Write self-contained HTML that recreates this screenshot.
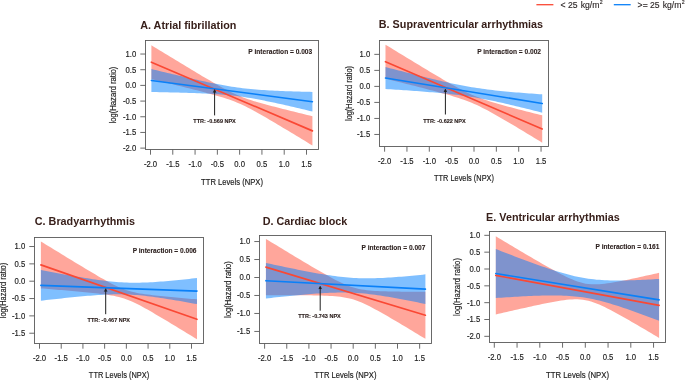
<!DOCTYPE html>
<html><head><meta charset="utf-8"><style>
html,body{margin:0;padding:0;background:#fff;}
svg{display:block;will-change:transform;}
text{font-family:"Liberation Sans",sans-serif;}
.tk{font-size:7.7px;fill:#222222;stroke:#222222;stroke-width:0.15px;}
.xl{font-size:7.75px;fill:#222222;stroke:#222222;stroke-width:0.15px;}
.ti{font-size:10.8px;font-weight:bold;fill:#38201b;}
.pi{font-size:6.6px;font-weight:bold;fill:#2e2220;stroke:#2e2220;stroke-width:0.1px;}
.tt{font-size:5.5px;font-weight:bold;fill:#2e2220;stroke:#2e2220;stroke-width:0.12px;}
.lg{font-size:8.65px;fill:#2a2424;stroke:#2a2424;stroke-width:0.12px;}
.sup{font-size:5.2px;}
</style></head><body>
<svg width="685" height="381" viewBox="0 0 685 381">
<rect width="685" height="381" fill="#fff"/>
<path d="M151.39,45.25 L154.08,46.90 L156.76,48.54 L159.44,50.18 L162.13,51.82 L164.81,53.45 L167.49,55.09 L170.18,56.73 L172.86,58.36 L175.55,59.99 L178.23,61.62 L180.91,63.25 L183.60,64.87 L186.28,66.50 L188.97,68.11 L191.65,69.73 L194.33,71.34 L197.02,72.95 L199.70,74.55 L202.38,76.14 L205.07,77.73 L207.75,79.30 L210.44,80.87 L213.12,82.42 L215.80,83.95 L218.49,85.46 L221.17,86.95 L223.86,88.41 L226.54,89.83 L229.22,91.20 L231.91,92.52 L234.59,93.79 L237.27,94.99 L239.96,96.12 L242.64,97.18 L245.33,98.19 L248.01,99.13 L250.69,100.03 L253.38,100.88 L256.06,101.70 L258.75,102.49 L261.43,103.26 L264.11,104.01 L266.80,104.74 L269.48,105.46 L272.16,106.17 L274.85,106.87 L277.53,107.57 L280.22,108.25 L282.90,108.93 L285.58,109.61 L288.27,110.28 L290.95,110.95 L293.64,111.62 L296.32,112.28 L299.00,112.94 L301.69,113.60 L304.37,114.26 L307.06,114.91 L309.74,115.57 L312.42,116.22 L312.42,145.53 L309.74,143.89 L307.06,142.25 L304.37,140.62 L301.69,138.99 L299.00,137.36 L296.32,135.73 L293.64,134.10 L290.95,132.48 L288.27,130.86 L285.58,129.24 L282.90,127.63 L280.22,126.02 L277.53,124.42 L274.85,122.82 L272.16,121.23 L269.48,119.65 L266.80,118.08 L264.11,116.53 L261.43,114.99 L258.75,113.47 L256.06,111.97 L253.38,110.50 L250.69,109.06 L248.01,107.67 L245.33,106.33 L242.64,105.04 L239.96,103.81 L237.27,102.66 L234.59,101.57 L231.91,100.54 L229.22,99.57 L226.54,98.66 L223.86,97.79 L221.17,96.96 L218.49,96.16 L215.80,95.38 L213.12,94.63 L210.44,93.89 L207.75,93.16 L205.07,92.45 L202.38,91.74 L199.70,91.05 L197.02,90.36 L194.33,89.68 L191.65,89.00 L188.97,88.32 L186.28,87.65 L183.60,86.99 L180.91,86.32 L178.23,85.66 L175.55,85.00 L172.86,84.34 L170.18,83.69 L167.49,83.03 L164.81,82.38 L162.13,81.73 L159.44,81.08 L156.76,80.43 L154.08,79.78 L151.39,79.13 Z" fill="#ff4d37" fill-opacity="0.5"/>
<path d="M151.39,69.04 L154.08,69.69 L156.76,70.34 L159.44,70.99 L162.13,71.64 L164.81,72.29 L167.49,72.93 L170.18,73.58 L172.86,74.22 L175.55,74.85 L178.23,75.49 L180.91,76.12 L183.60,76.75 L186.28,77.38 L188.97,78.00 L191.65,78.61 L194.33,79.22 L197.02,79.83 L199.70,80.43 L202.38,81.02 L205.07,81.60 L207.75,82.17 L210.44,82.74 L213.12,83.29 L215.80,83.83 L218.49,84.35 L221.17,84.86 L223.86,85.35 L226.54,85.83 L229.22,86.28 L231.91,86.71 L234.59,87.12 L237.27,87.51 L239.96,87.87 L242.64,88.20 L245.33,88.52 L248.01,88.80 L250.69,89.07 L253.38,89.32 L256.06,89.54 L258.75,89.75 L261.43,89.94 L264.11,90.11 L266.80,90.28 L269.48,90.43 L272.16,90.56 L274.85,90.69 L277.53,90.81 L280.22,90.93 L282.90,91.03 L285.58,91.13 L288.27,91.23 L290.95,91.31 L293.64,91.40 L296.32,91.48 L299.00,91.56 L301.69,91.63 L304.37,91.70 L307.06,91.77 L309.74,91.83 L312.42,91.89 L312.42,111.52 L309.74,110.88 L307.06,110.23 L304.37,109.60 L301.69,108.96 L299.00,108.33 L296.32,107.70 L293.64,107.07 L290.95,106.45 L288.27,105.83 L285.58,105.22 L282.90,104.61 L280.22,104.01 L277.53,103.41 L274.85,102.83 L272.16,102.25 L269.48,101.68 L266.80,101.13 L264.11,100.58 L261.43,100.05 L258.75,99.53 L256.06,99.03 L253.38,98.55 L250.69,98.09 L248.01,97.65 L245.33,97.23 L242.64,96.84 L239.96,96.47 L237.27,96.12 L234.59,95.80 L231.91,95.50 L229.22,95.23 L226.54,94.97 L223.86,94.74 L221.17,94.53 L218.49,94.33 L215.80,94.15 L213.12,93.98 L210.44,93.83 L207.75,93.68 L205.07,93.55 L202.38,93.43 L199.70,93.31 L197.02,93.20 L194.33,93.10 L191.65,93.00 L188.97,92.91 L186.28,92.83 L183.60,92.74 L180.91,92.67 L178.23,92.59 L175.55,92.52 L172.86,92.45 L170.18,92.39 L167.49,92.32 L164.81,92.26 L162.13,92.20 L159.44,92.14 L156.76,92.09 L154.08,92.03 L151.39,91.98 Z" fill="#0080ff" fill-opacity="0.5"/>
<line x1="151.39" y1="62.19" x2="312.42" y2="130.87" stroke="#fa4834" stroke-width="1.65" stroke-linecap="round"/>
<line x1="151.39" y1="80.51" x2="312.42" y2="101.71" stroke="#0a80f8" stroke-width="1.65" stroke-linecap="round"/>
<rect x="145.5" y="40.5" width="173.00" height="109.00" fill="none" stroke="#5a5a5a" stroke-width="0.9"/>
<line x1="140.30" y1="148.12" x2="145.50" y2="148.12" stroke="#5a5a5a" stroke-width="0.9"/>
<text transform="translate(136.20,151.07) scale(1,1.1)" class="tk" text-anchor="end">-2.0</text>
<line x1="140.30" y1="132.44" x2="145.50" y2="132.44" stroke="#5a5a5a" stroke-width="0.9"/>
<text transform="translate(136.20,135.39) scale(1,1.1)" class="tk" text-anchor="end">-1.5</text>
<line x1="140.30" y1="116.76" x2="145.50" y2="116.76" stroke="#5a5a5a" stroke-width="0.9"/>
<text transform="translate(136.20,119.71) scale(1,1.1)" class="tk" text-anchor="end">-1.0</text>
<line x1="140.30" y1="101.08" x2="145.50" y2="101.08" stroke="#5a5a5a" stroke-width="0.9"/>
<text transform="translate(136.20,104.03) scale(1,1.1)" class="tk" text-anchor="end">-0.5</text>
<line x1="140.30" y1="85.40" x2="145.50" y2="85.40" stroke="#5a5a5a" stroke-width="0.9"/>
<text transform="translate(136.20,88.35) scale(1,1.1)" class="tk" text-anchor="end">0.0</text>
<line x1="140.30" y1="69.72" x2="145.50" y2="69.72" stroke="#5a5a5a" stroke-width="0.9"/>
<text transform="translate(136.20,72.67) scale(1,1.1)" class="tk" text-anchor="end">0.5</text>
<line x1="140.30" y1="54.04" x2="145.50" y2="54.04" stroke="#5a5a5a" stroke-width="0.9"/>
<text transform="translate(136.20,56.99) scale(1,1.1)" class="tk" text-anchor="end">1.0</text>
<line x1="150.50" y1="149.50" x2="150.50" y2="154.70" stroke="#5a5a5a" stroke-width="0.9"/>
<text transform="translate(150.50,166.80) scale(1,1.1)" class="tk" text-anchor="middle">-2.0</text>
<line x1="172.78" y1="149.50" x2="172.78" y2="154.70" stroke="#5a5a5a" stroke-width="0.9"/>
<text transform="translate(172.78,166.80) scale(1,1.1)" class="tk" text-anchor="middle">-1.5</text>
<line x1="195.07" y1="149.50" x2="195.07" y2="154.70" stroke="#5a5a5a" stroke-width="0.9"/>
<text transform="translate(195.07,166.80) scale(1,1.1)" class="tk" text-anchor="middle">-1.0</text>
<line x1="217.36" y1="149.50" x2="217.36" y2="154.70" stroke="#5a5a5a" stroke-width="0.9"/>
<text transform="translate(217.36,166.80) scale(1,1.1)" class="tk" text-anchor="middle">-0.5</text>
<line x1="239.64" y1="149.50" x2="239.64" y2="154.70" stroke="#5a5a5a" stroke-width="0.9"/>
<text transform="translate(239.64,166.80) scale(1,1.1)" class="tk" text-anchor="middle">0.0</text>
<line x1="261.93" y1="149.50" x2="261.93" y2="154.70" stroke="#5a5a5a" stroke-width="0.9"/>
<text transform="translate(261.93,166.80) scale(1,1.1)" class="tk" text-anchor="middle">0.5</text>
<line x1="284.21" y1="149.50" x2="284.21" y2="154.70" stroke="#5a5a5a" stroke-width="0.9"/>
<text transform="translate(284.21,166.80) scale(1,1.1)" class="tk" text-anchor="middle">1.0</text>
<line x1="306.50" y1="149.50" x2="306.50" y2="154.70" stroke="#5a5a5a" stroke-width="0.9"/>
<text transform="translate(306.50,166.80) scale(1,1.1)" class="tk" text-anchor="middle">1.5</text>
<text transform="translate(232.00,184.80) scale(1,1.1)" class="xl" style="font-size:7.63px" text-anchor="middle">TTR Levels (NPX)</text>
<text transform="translate(115.90,95.00) rotate(-90) scale(1,1.1)" class="xl" style="font-size:7.63px" text-anchor="middle">log(Hazard ratio)</text>
<text transform="translate(140.2,28.5) scale(1,1.03)" class="ti">A. Atrial fibrillation</text>
<text x="312.2" y="53.80" class="pi" text-anchor="end">P interaction = 0.003</text>
<line x1="214.60" y1="115.40" x2="214.60" y2="90.40" stroke="#1f1f1f" stroke-width="1"/>
<path d="M213.20,92.50 L214.60,89.60 L216.00,92.50" fill="#1f1f1f" stroke="#1f1f1f" stroke-width="0.6"/>
<text x="214.55" y="122.7" class="tt" text-anchor="middle">TTR: -0.569 NPX</text>
<path d="M385.49,44.67 L388.11,46.27 L390.72,47.87 L393.33,49.47 L395.94,51.07 L398.55,52.66 L401.17,54.26 L403.78,55.85 L406.39,57.44 L409.00,59.03 L411.61,60.62 L414.23,62.20 L416.84,63.79 L419.45,65.37 L422.06,66.94 L424.67,68.52 L427.29,70.09 L429.90,71.65 L432.51,73.21 L435.12,74.77 L437.73,76.31 L440.35,77.85 L442.96,79.38 L445.57,80.89 L448.18,82.40 L450.79,83.88 L453.41,85.35 L456.02,86.79 L458.63,88.20 L461.24,89.58 L463.85,90.92 L466.47,92.21 L469.08,93.45 L471.69,94.63 L474.30,95.76 L476.91,96.82 L479.52,97.83 L482.14,98.79 L484.75,99.70 L487.36,100.57 L489.97,101.41 L492.58,102.21 L495.20,102.99 L497.81,103.75 L500.42,104.50 L503.03,105.23 L505.64,105.94 L508.26,106.65 L510.87,107.35 L513.48,108.04 L516.09,108.73 L518.70,109.41 L521.32,110.08 L523.93,110.75 L526.54,111.42 L529.15,112.08 L531.76,112.74 L534.38,113.40 L536.99,114.06 L539.60,114.71 L542.21,115.37 L542.21,142.66 L539.60,141.07 L536.99,139.48 L534.38,137.89 L531.76,136.31 L529.15,134.72 L526.54,133.14 L523.93,131.57 L521.32,129.99 L518.70,128.43 L516.09,126.86 L513.48,125.30 L510.87,123.75 L508.26,122.20 L505.64,120.67 L503.03,119.14 L500.42,117.63 L497.81,116.13 L495.20,114.64 L492.58,113.18 L489.97,111.74 L487.36,110.33 L484.75,108.96 L482.14,107.63 L479.52,106.34 L476.91,105.10 L474.30,103.93 L471.69,102.81 L469.08,101.75 L466.47,100.75 L463.85,99.79 L461.24,98.89 L458.63,98.02 L456.02,97.19 L453.41,96.39 L450.79,95.61 L448.18,94.85 L445.57,94.11 L442.96,93.38 L440.35,92.67 L437.73,91.96 L435.12,91.26 L432.51,90.57 L429.90,89.89 L427.29,89.21 L424.67,88.53 L422.06,87.86 L419.45,87.20 L416.84,86.53 L414.23,85.87 L411.61,85.21 L409.00,84.56 L406.39,83.90 L403.78,83.25 L401.17,82.60 L398.55,81.95 L395.94,81.30 L393.33,80.66 L390.72,80.01 L388.11,79.36 L385.49,78.72 Z" fill="#ff4d37" fill-opacity="0.5"/>
<path d="M385.49,67.01 L388.11,67.70 L390.72,68.38 L393.33,69.07 L395.94,69.75 L398.55,70.43 L401.17,71.11 L403.78,71.78 L406.39,72.45 L409.00,73.12 L411.61,73.79 L414.23,74.45 L416.84,75.11 L419.45,75.77 L422.06,76.42 L424.67,77.06 L427.29,77.70 L429.90,78.34 L432.51,78.97 L435.12,79.59 L437.73,80.20 L440.35,80.81 L442.96,81.41 L445.57,81.99 L448.18,82.57 L450.79,83.14 L453.41,83.69 L456.02,84.23 L458.63,84.75 L461.24,85.26 L463.85,85.76 L466.47,86.24 L469.08,86.70 L471.69,87.14 L474.30,87.57 L476.91,87.98 L479.52,88.37 L482.14,88.74 L484.75,89.10 L487.36,89.44 L489.97,89.77 L492.58,90.08 L495.20,90.38 L497.81,90.67 L500.42,90.94 L503.03,91.20 L505.64,91.46 L508.26,91.70 L510.87,91.94 L513.48,92.17 L516.09,92.39 L518.70,92.61 L521.32,92.82 L523.93,93.02 L526.54,93.22 L529.15,93.42 L531.76,93.61 L534.38,93.80 L536.99,93.98 L539.60,94.16 L542.21,94.34 L542.21,112.68 L539.60,112.01 L536.99,111.34 L534.38,110.67 L531.76,110.01 L529.15,109.35 L526.54,108.70 L523.93,108.05 L521.32,107.40 L518.70,106.76 L516.09,106.13 L513.48,105.50 L510.87,104.88 L508.26,104.26 L505.64,103.66 L503.03,103.06 L500.42,102.48 L497.81,101.90 L495.20,101.34 L492.58,100.79 L489.97,100.25 L487.36,99.73 L484.75,99.22 L482.14,98.72 L479.52,98.25 L476.91,97.79 L474.30,97.35 L471.69,96.92 L469.08,96.52 L466.47,96.13 L463.85,95.76 L461.24,95.40 L458.63,95.06 L456.02,94.74 L453.41,94.43 L450.79,94.13 L448.18,93.84 L445.57,93.57 L442.96,93.31 L440.35,93.05 L437.73,92.81 L435.12,92.57 L432.51,92.35 L429.90,92.13 L427.29,91.91 L424.67,91.70 L422.06,91.50 L419.45,91.30 L416.84,91.10 L414.23,90.91 L411.61,90.72 L409.00,90.54 L406.39,90.36 L403.78,90.18 L401.17,90.01 L398.55,89.83 L395.94,89.66 L393.33,89.49 L390.72,89.33 L388.11,89.16 L385.49,89.00 Z" fill="#0080ff" fill-opacity="0.5"/>
<line x1="385.49" y1="61.70" x2="542.21" y2="129.01" stroke="#fa4834" stroke-width="1.65" stroke-linecap="round"/>
<line x1="385.49" y1="78.01" x2="542.21" y2="103.51" stroke="#0a80f8" stroke-width="1.65" stroke-linecap="round"/>
<rect x="379.5" y="40.5" width="169.00" height="106.00" fill="none" stroke="#5a5a5a" stroke-width="0.9"/>
<line x1="374.30" y1="134.46" x2="379.50" y2="134.46" stroke="#5a5a5a" stroke-width="0.9"/>
<text transform="translate(370.20,137.41) scale(1,1.1)" class="tk" text-anchor="end">-1.5</text>
<line x1="374.30" y1="118.44" x2="379.50" y2="118.44" stroke="#5a5a5a" stroke-width="0.9"/>
<text transform="translate(370.20,121.39) scale(1,1.1)" class="tk" text-anchor="end">-1.0</text>
<line x1="374.30" y1="102.42" x2="379.50" y2="102.42" stroke="#5a5a5a" stroke-width="0.9"/>
<text transform="translate(370.20,105.37) scale(1,1.1)" class="tk" text-anchor="end">-0.5</text>
<line x1="374.30" y1="86.40" x2="379.50" y2="86.40" stroke="#5a5a5a" stroke-width="0.9"/>
<text transform="translate(370.20,89.35) scale(1,1.1)" class="tk" text-anchor="end">0.0</text>
<line x1="374.30" y1="70.38" x2="379.50" y2="70.38" stroke="#5a5a5a" stroke-width="0.9"/>
<text transform="translate(370.20,73.33) scale(1,1.1)" class="tk" text-anchor="end">0.5</text>
<line x1="374.30" y1="54.36" x2="379.50" y2="54.36" stroke="#5a5a5a" stroke-width="0.9"/>
<text transform="translate(370.20,57.31) scale(1,1.1)" class="tk" text-anchor="end">1.0</text>
<line x1="384.60" y1="146.50" x2="384.60" y2="151.70" stroke="#5a5a5a" stroke-width="0.9"/>
<text transform="translate(384.60,163.80) scale(1,1.1)" class="tk" text-anchor="middle">-2.0</text>
<line x1="406.95" y1="146.50" x2="406.95" y2="151.70" stroke="#5a5a5a" stroke-width="0.9"/>
<text transform="translate(406.95,163.80) scale(1,1.1)" class="tk" text-anchor="middle">-1.5</text>
<line x1="429.30" y1="146.50" x2="429.30" y2="151.70" stroke="#5a5a5a" stroke-width="0.9"/>
<text transform="translate(429.30,163.80) scale(1,1.1)" class="tk" text-anchor="middle">-1.0</text>
<line x1="451.65" y1="146.50" x2="451.65" y2="151.70" stroke="#5a5a5a" stroke-width="0.9"/>
<text transform="translate(451.65,163.80) scale(1,1.1)" class="tk" text-anchor="middle">-0.5</text>
<line x1="474.00" y1="146.50" x2="474.00" y2="151.70" stroke="#5a5a5a" stroke-width="0.9"/>
<text transform="translate(474.00,163.80) scale(1,1.1)" class="tk" text-anchor="middle">0.0</text>
<line x1="496.35" y1="146.50" x2="496.35" y2="151.70" stroke="#5a5a5a" stroke-width="0.9"/>
<text transform="translate(496.35,163.80) scale(1,1.1)" class="tk" text-anchor="middle">0.5</text>
<line x1="518.70" y1="146.50" x2="518.70" y2="151.70" stroke="#5a5a5a" stroke-width="0.9"/>
<text transform="translate(518.70,163.80) scale(1,1.1)" class="tk" text-anchor="middle">1.0</text>
<line x1="541.05" y1="146.50" x2="541.05" y2="151.70" stroke="#5a5a5a" stroke-width="0.9"/>
<text transform="translate(541.05,163.80) scale(1,1.1)" class="tk" text-anchor="middle">1.5</text>
<text transform="translate(464.00,180.80) scale(1,1.1)" class="xl" style="font-size:7.41px" text-anchor="middle">TTR Levels (NPX)</text>
<text transform="translate(351.50,93.50) rotate(-90) scale(1,1.1)" class="xl" style="font-size:7.41px" text-anchor="middle">log(Hazard ratio)</text>
<text transform="translate(378.8,28.4) scale(1,1.03)" class="ti">B. Supraventricular arrhythmias</text>
<text x="541.0" y="53.90" class="pi" text-anchor="end">P interaction = 0.002</text>
<line x1="445.40" y1="114.50" x2="445.40" y2="89.90" stroke="#1f1f1f" stroke-width="1"/>
<path d="M444.00,92.00 L445.40,89.10 L446.80,92.00" fill="#1f1f1f" stroke="#1f1f1f" stroke-width="0.6"/>
<text x="444.40" y="122.7" class="tt" text-anchor="middle">TTR: -0.622 NPX</text>
<path d="M40.89,241.42 L43.49,243.03 L46.09,244.63 L48.69,246.23 L51.30,247.82 L53.90,249.42 L56.50,251.02 L59.10,252.61 L61.70,254.20 L64.30,255.80 L66.90,257.39 L69.51,258.97 L72.11,260.56 L74.71,262.14 L77.31,263.72 L79.91,265.29 L82.51,266.86 L85.11,268.42 L87.72,269.98 L90.32,271.53 L92.92,273.07 L95.52,274.61 L98.12,276.13 L100.72,277.63 L103.32,279.11 L105.93,280.57 L108.53,282.00 L111.13,283.39 L113.73,284.73 L116.33,286.01 L118.93,287.22 L121.53,288.34 L124.14,289.36 L126.74,290.26 L129.34,291.06 L131.94,291.76 L134.54,292.37 L137.14,292.90 L139.75,293.38 L142.35,293.80 L144.95,294.19 L147.55,294.54 L150.15,294.87 L152.75,295.18 L155.35,295.48 L157.96,295.76 L160.56,296.03 L163.16,296.30 L165.76,296.55 L168.36,296.80 L170.96,297.05 L173.56,297.29 L176.17,297.52 L178.77,297.76 L181.37,297.98 L183.97,298.21 L186.57,298.44 L189.17,298.66 L191.77,298.88 L194.38,299.10 L196.98,299.32 L196.98,339.31 L194.38,337.71 L191.77,336.12 L189.17,334.53 L186.57,332.94 L183.97,331.35 L181.37,329.76 L178.77,328.17 L176.17,326.59 L173.56,325.02 L170.96,323.44 L168.36,321.87 L165.76,320.31 L163.16,318.75 L160.56,317.20 L157.96,315.66 L155.35,314.13 L152.75,312.61 L150.15,311.11 L147.55,309.62 L144.95,308.16 L142.35,306.74 L139.75,305.35 L137.14,304.01 L134.54,302.73 L131.94,301.52 L129.34,300.40 L126.74,299.39 L124.14,298.48 L121.53,297.69 L118.93,296.99 L116.33,296.39 L113.73,295.85 L111.13,295.38 L108.53,294.96 L105.93,294.57 L103.32,294.22 L100.72,293.89 L98.12,293.58 L95.52,293.28 L92.92,293.00 L90.32,292.73 L87.72,292.47 L85.11,292.21 L82.51,291.96 L79.91,291.72 L77.31,291.48 L74.71,291.24 L72.11,291.01 L69.51,290.78 L66.90,290.55 L64.30,290.33 L61.70,290.11 L59.10,289.89 L56.50,289.67 L53.90,289.45 L51.30,289.23 L48.69,289.02 L46.09,288.80 L43.49,288.59 L40.89,288.38 Z" fill="#ff4d37" fill-opacity="0.5"/>
<path d="M40.89,270.07 L43.49,270.56 L46.09,271.05 L48.69,271.53 L51.30,272.01 L53.90,272.49 L56.50,272.97 L59.10,273.45 L61.70,273.92 L64.30,274.39 L66.90,274.85 L69.51,275.31 L72.11,275.76 L74.71,276.21 L77.31,276.66 L79.91,277.09 L82.51,277.52 L85.11,277.95 L87.72,278.36 L90.32,278.76 L92.92,279.16 L95.52,279.54 L98.12,279.91 L100.72,280.26 L103.32,280.60 L105.93,280.91 L108.53,281.21 L111.13,281.49 L113.73,281.74 L116.33,281.96 L118.93,282.16 L121.53,282.33 L124.14,282.47 L126.74,282.58 L129.34,282.66 L131.94,282.70 L134.54,282.72 L137.14,282.71 L139.75,282.67 L142.35,282.61 L144.95,282.52 L147.55,282.41 L150.15,282.28 L152.75,282.13 L155.35,281.96 L157.96,281.78 L160.56,281.59 L163.16,281.39 L165.76,281.17 L168.36,280.95 L170.96,280.71 L173.56,280.47 L176.17,280.22 L178.77,279.97 L181.37,279.71 L183.97,279.44 L186.57,279.17 L189.17,278.90 L191.77,278.62 L194.38,278.34 L196.98,278.05 L196.98,304.12 L194.38,303.64 L191.77,303.17 L189.17,302.70 L186.57,302.24 L183.97,301.78 L181.37,301.32 L178.77,300.87 L176.17,300.43 L173.56,299.99 L170.96,299.56 L168.36,299.14 L165.76,298.72 L163.16,298.32 L160.56,297.92 L157.96,297.54 L155.35,297.17 L152.75,296.82 L150.15,296.48 L147.55,296.16 L144.95,295.86 L142.35,295.58 L139.75,295.33 L137.14,295.10 L134.54,294.90 L131.94,294.73 L129.34,294.58 L126.74,294.47 L124.14,294.39 L121.53,294.34 L118.93,294.32 L116.33,294.33 L113.73,294.36 L111.13,294.43 L108.53,294.51 L105.93,294.62 L103.32,294.75 L100.72,294.89 L98.12,295.06 L95.52,295.23 L92.92,295.43 L90.32,295.63 L87.72,295.84 L85.11,296.07 L82.51,296.30 L79.91,296.54 L77.31,296.79 L74.71,297.04 L72.11,297.30 L69.51,297.57 L66.90,297.84 L64.30,298.11 L61.70,298.39 L59.10,298.67 L56.50,298.96 L53.90,299.25 L51.30,299.54 L48.69,299.83 L46.09,300.12 L43.49,300.42 L40.89,300.72 Z" fill="#0080ff" fill-opacity="0.5"/>
<line x1="40.89" y1="264.90" x2="196.98" y2="319.31" stroke="#fa4834" stroke-width="1.65" stroke-linecap="round"/>
<line x1="40.89" y1="285.40" x2="196.98" y2="291.08" stroke="#0a80f8" stroke-width="1.65" stroke-linecap="round"/>
<rect x="34.5" y="237.5" width="169.00" height="106.00" fill="none" stroke="#5a5a5a" stroke-width="0.9"/>
<line x1="29.30" y1="333.22" x2="34.50" y2="333.22" stroke="#5a5a5a" stroke-width="0.9"/>
<text transform="translate(25.20,336.17) scale(1,1.1)" class="tk" text-anchor="end">-1.5</text>
<line x1="29.30" y1="315.88" x2="34.50" y2="315.88" stroke="#5a5a5a" stroke-width="0.9"/>
<text transform="translate(25.20,318.83) scale(1,1.1)" class="tk" text-anchor="end">-1.0</text>
<line x1="29.30" y1="298.54" x2="34.50" y2="298.54" stroke="#5a5a5a" stroke-width="0.9"/>
<text transform="translate(25.20,301.49) scale(1,1.1)" class="tk" text-anchor="end">-0.5</text>
<line x1="29.30" y1="281.20" x2="34.50" y2="281.20" stroke="#5a5a5a" stroke-width="0.9"/>
<text transform="translate(25.20,284.15) scale(1,1.1)" class="tk" text-anchor="end">0.0</text>
<line x1="29.30" y1="263.86" x2="34.50" y2="263.86" stroke="#5a5a5a" stroke-width="0.9"/>
<text transform="translate(25.20,266.81) scale(1,1.1)" class="tk" text-anchor="end">0.5</text>
<line x1="29.30" y1="246.52" x2="34.50" y2="246.52" stroke="#5a5a5a" stroke-width="0.9"/>
<text transform="translate(25.20,249.47) scale(1,1.1)" class="tk" text-anchor="end">1.0</text>
<line x1="39.50" y1="343.50" x2="39.50" y2="348.70" stroke="#5a5a5a" stroke-width="0.9"/>
<text transform="translate(39.50,360.80) scale(1,1.1)" class="tk" text-anchor="middle">-2.0</text>
<line x1="61.22" y1="343.50" x2="61.22" y2="348.70" stroke="#5a5a5a" stroke-width="0.9"/>
<text transform="translate(61.22,360.80) scale(1,1.1)" class="tk" text-anchor="middle">-1.5</text>
<line x1="82.93" y1="343.50" x2="82.93" y2="348.70" stroke="#5a5a5a" stroke-width="0.9"/>
<text transform="translate(82.93,360.80) scale(1,1.1)" class="tk" text-anchor="middle">-1.0</text>
<line x1="104.64" y1="343.50" x2="104.64" y2="348.70" stroke="#5a5a5a" stroke-width="0.9"/>
<text transform="translate(104.64,360.80) scale(1,1.1)" class="tk" text-anchor="middle">-0.5</text>
<line x1="126.36" y1="343.50" x2="126.36" y2="348.70" stroke="#5a5a5a" stroke-width="0.9"/>
<text transform="translate(126.36,360.80) scale(1,1.1)" class="tk" text-anchor="middle">0.0</text>
<line x1="148.07" y1="343.50" x2="148.07" y2="348.70" stroke="#5a5a5a" stroke-width="0.9"/>
<text transform="translate(148.07,360.80) scale(1,1.1)" class="tk" text-anchor="middle">0.5</text>
<line x1="169.79" y1="343.50" x2="169.79" y2="348.70" stroke="#5a5a5a" stroke-width="0.9"/>
<text transform="translate(169.79,360.80) scale(1,1.1)" class="tk" text-anchor="middle">1.0</text>
<line x1="191.50" y1="343.50" x2="191.50" y2="348.70" stroke="#5a5a5a" stroke-width="0.9"/>
<text transform="translate(191.50,360.80) scale(1,1.1)" class="tk" text-anchor="middle">1.5</text>
<text transform="translate(119.00,377.50) scale(1,1.1)" class="xl" style="font-size:7.44px" text-anchor="middle">TTR Levels (NPX)</text>
<text transform="translate(5.60,290.50) rotate(-90) scale(1,1.1)" class="xl" style="font-size:7.44px" text-anchor="middle">log(Hazard ratio)</text>
<text transform="translate(34.8,225) scale(1,1.03)" class="ti">C. Bradyarrhythmis</text>
<text x="196.5" y="252.70" class="pi" text-anchor="end">P interaction = 0.006</text>
<line x1="105.70" y1="314.20" x2="105.70" y2="289.50" stroke="#1f1f1f" stroke-width="1"/>
<path d="M104.30,291.60 L105.70,288.70 L107.10,291.60" fill="#1f1f1f" stroke="#1f1f1f" stroke-width="0.6"/>
<text x="108.80" y="321.9" class="tt" text-anchor="middle">TTR: -0.467 NPX</text>
<path d="M265.93,238.89 L268.59,240.51 L271.25,242.13 L273.90,243.75 L276.56,245.37 L279.22,246.98 L281.88,248.60 L284.54,250.21 L287.19,251.82 L289.85,253.43 L292.51,255.04 L295.17,256.64 L297.83,258.24 L300.48,259.83 L303.14,261.42 L305.80,263.01 L308.46,264.58 L311.12,266.16 L313.77,267.72 L316.43,269.27 L319.09,270.81 L321.75,272.34 L324.41,273.85 L327.06,275.35 L329.72,276.82 L332.38,278.25 L335.04,279.66 L337.69,281.02 L340.35,282.32 L343.01,283.56 L345.67,284.71 L348.33,285.77 L350.99,286.73 L353.64,287.57 L356.30,288.30 L358.96,288.91 L361.62,289.42 L364.28,289.84 L366.93,290.18 L369.59,290.47 L372.25,290.70 L374.91,290.89 L377.56,291.04 L380.22,291.17 L382.88,291.28 L385.54,291.36 L388.20,291.43 L390.86,291.49 L393.51,291.54 L396.17,291.58 L398.83,291.61 L401.49,291.64 L404.14,291.65 L406.80,291.67 L409.46,291.68 L412.12,291.68 L414.78,291.68 L417.44,291.68 L420.09,291.68 L422.75,291.67 L425.41,291.66 L425.41,338.85 L422.75,337.24 L420.09,335.63 L417.44,334.02 L414.78,332.41 L412.12,330.81 L409.46,329.21 L406.80,327.61 L404.14,326.02 L401.49,324.44 L398.83,322.85 L396.17,321.28 L393.51,319.71 L390.86,318.16 L388.20,316.61 L385.54,315.08 L382.88,313.56 L380.22,312.06 L377.56,310.58 L374.91,309.13 L372.25,307.72 L369.59,306.34 L366.93,305.02 L364.28,303.76 L361.62,302.58 L358.96,301.48 L356.30,300.49 L353.64,299.61 L350.99,298.85 L348.33,298.20 L345.67,297.65 L343.01,297.20 L340.35,296.84 L337.69,296.53 L335.04,296.29 L332.38,296.09 L329.72,295.92 L327.06,295.78 L324.41,295.67 L321.75,295.58 L319.09,295.50 L316.43,295.44 L313.77,295.39 L311.12,295.35 L308.46,295.31 L305.80,295.29 L303.14,295.26 L300.48,295.25 L297.83,295.24 L295.17,295.23 L292.51,295.23 L289.85,295.23 L287.19,295.23 L284.54,295.24 L281.88,295.25 L279.22,295.26 L276.56,295.27 L273.90,295.28 L271.25,295.30 L268.59,295.31 L265.93,295.33 Z" fill="#ff4d37" fill-opacity="0.5"/>
<path d="M265.93,262.91 L268.59,263.49 L271.25,264.06 L273.90,264.64 L276.56,265.21 L279.22,265.77 L281.88,266.34 L284.54,266.90 L287.19,267.46 L289.85,268.01 L292.51,268.55 L295.17,269.10 L297.83,269.63 L300.48,270.16 L303.14,270.69 L305.80,271.20 L308.46,271.71 L311.12,272.21 L313.77,272.70 L316.43,273.17 L319.09,273.64 L321.75,274.09 L324.41,274.53 L327.06,274.95 L329.72,275.35 L332.38,275.73 L335.04,276.10 L337.69,276.44 L340.35,276.75 L343.01,277.04 L345.67,277.30 L348.33,277.53 L350.99,277.74 L353.64,277.91 L356.30,278.05 L358.96,278.16 L361.62,278.23 L364.28,278.28 L366.93,278.30 L369.59,278.29 L372.25,278.26 L374.91,278.20 L377.56,278.12 L380.22,278.01 L382.88,277.89 L385.54,277.75 L388.20,277.60 L390.86,277.43 L393.51,277.24 L396.17,277.05 L398.83,276.84 L401.49,276.63 L404.14,276.40 L406.80,276.17 L409.46,275.93 L412.12,275.68 L414.78,275.43 L417.44,275.17 L420.09,274.90 L422.75,274.63 L425.41,274.36 L425.41,304.02 L422.75,303.46 L420.09,302.91 L417.44,302.36 L414.78,301.82 L412.12,301.28 L409.46,300.75 L406.80,300.23 L404.14,299.71 L401.49,299.20 L398.83,298.70 L396.17,298.21 L393.51,297.73 L390.86,297.27 L388.20,296.82 L385.54,296.38 L382.88,295.95 L380.22,295.55 L377.56,295.16 L374.91,294.80 L372.25,294.46 L369.59,294.14 L366.93,293.85 L364.28,293.59 L361.62,293.35 L358.96,293.15 L356.30,292.97 L353.64,292.83 L350.99,292.72 L348.33,292.64 L345.67,292.59 L343.01,292.56 L340.35,292.57 L337.69,292.60 L335.04,292.66 L332.38,292.74 L329.72,292.84 L327.06,292.96 L324.41,293.10 L321.75,293.25 L319.09,293.42 L316.43,293.60 L313.77,293.80 L311.12,294.00 L308.46,294.22 L305.80,294.44 L303.14,294.67 L300.48,294.92 L297.83,295.16 L295.17,295.42 L292.51,295.67 L289.85,295.94 L287.19,296.21 L284.54,296.48 L281.88,296.76 L279.22,297.04 L276.56,297.32 L273.90,297.61 L271.25,297.90 L268.59,298.20 L265.93,298.49 Z" fill="#0080ff" fill-opacity="0.5"/>
<line x1="265.93" y1="267.11" x2="425.41" y2="315.26" stroke="#fa4834" stroke-width="1.65" stroke-linecap="round"/>
<line x1="265.93" y1="280.70" x2="425.41" y2="289.19" stroke="#0a80f8" stroke-width="1.65" stroke-linecap="round"/>
<rect x="259.5" y="235.5" width="172.00" height="108.00" fill="none" stroke="#5a5a5a" stroke-width="0.9"/>
<line x1="254.30" y1="331.44" x2="259.50" y2="331.44" stroke="#5a5a5a" stroke-width="0.9"/>
<text transform="translate(250.20,334.39) scale(1,1.1)" class="tk" text-anchor="end">-1.5</text>
<line x1="254.30" y1="313.46" x2="259.50" y2="313.46" stroke="#5a5a5a" stroke-width="0.9"/>
<text transform="translate(250.20,316.41) scale(1,1.1)" class="tk" text-anchor="end">-1.0</text>
<line x1="254.30" y1="295.48" x2="259.50" y2="295.48" stroke="#5a5a5a" stroke-width="0.9"/>
<text transform="translate(250.20,298.43) scale(1,1.1)" class="tk" text-anchor="end">-0.5</text>
<line x1="254.30" y1="277.50" x2="259.50" y2="277.50" stroke="#5a5a5a" stroke-width="0.9"/>
<text transform="translate(250.20,280.45) scale(1,1.1)" class="tk" text-anchor="end">0.0</text>
<line x1="254.30" y1="259.52" x2="259.50" y2="259.52" stroke="#5a5a5a" stroke-width="0.9"/>
<text transform="translate(250.20,262.47) scale(1,1.1)" class="tk" text-anchor="end">0.5</text>
<line x1="254.30" y1="241.54" x2="259.50" y2="241.54" stroke="#5a5a5a" stroke-width="0.9"/>
<text transform="translate(250.20,244.49) scale(1,1.1)" class="tk" text-anchor="end">1.0</text>
<line x1="264.60" y1="343.50" x2="264.60" y2="348.70" stroke="#5a5a5a" stroke-width="0.9"/>
<text transform="translate(264.60,360.80) scale(1,1.1)" class="tk" text-anchor="middle">-2.0</text>
<line x1="286.75" y1="343.50" x2="286.75" y2="348.70" stroke="#5a5a5a" stroke-width="0.9"/>
<text transform="translate(286.75,360.80) scale(1,1.1)" class="tk" text-anchor="middle">-1.5</text>
<line x1="308.90" y1="343.50" x2="308.90" y2="348.70" stroke="#5a5a5a" stroke-width="0.9"/>
<text transform="translate(308.90,360.80) scale(1,1.1)" class="tk" text-anchor="middle">-1.0</text>
<line x1="331.05" y1="343.50" x2="331.05" y2="348.70" stroke="#5a5a5a" stroke-width="0.9"/>
<text transform="translate(331.05,360.80) scale(1,1.1)" class="tk" text-anchor="middle">-0.5</text>
<line x1="353.20" y1="343.50" x2="353.20" y2="348.70" stroke="#5a5a5a" stroke-width="0.9"/>
<text transform="translate(353.20,360.80) scale(1,1.1)" class="tk" text-anchor="middle">0.0</text>
<line x1="375.35" y1="343.50" x2="375.35" y2="348.70" stroke="#5a5a5a" stroke-width="0.9"/>
<text transform="translate(375.35,360.80) scale(1,1.1)" class="tk" text-anchor="middle">0.5</text>
<line x1="397.50" y1="343.50" x2="397.50" y2="348.70" stroke="#5a5a5a" stroke-width="0.9"/>
<text transform="translate(397.50,360.80) scale(1,1.1)" class="tk" text-anchor="middle">1.0</text>
<line x1="419.65" y1="343.50" x2="419.65" y2="348.70" stroke="#5a5a5a" stroke-width="0.9"/>
<text transform="translate(419.65,360.80) scale(1,1.1)" class="tk" text-anchor="middle">1.5</text>
<text transform="translate(345.50,378.10) scale(1,1.1)" class="xl" style="font-size:7.64px" text-anchor="middle">TTR Levels (NPX)</text>
<text transform="translate(231.10,289.50) rotate(-90) scale(1,1.1)" class="xl" style="font-size:7.64px" text-anchor="middle">log(Hazard ratio)</text>
<text transform="translate(262.7,225) scale(1,1.03)" class="ti">D. Cardiac block</text>
<text x="425.40000000000003" y="250.30" class="pi" text-anchor="end">P interaction = 0.007</text>
<line x1="320.20" y1="310.70" x2="320.20" y2="287.00" stroke="#1f1f1f" stroke-width="1"/>
<path d="M318.80,289.10 L320.20,286.20 L321.60,289.10" fill="#1f1f1f" stroke="#1f1f1f" stroke-width="0.6"/>
<text x="319.50" y="318.1" class="tt" text-anchor="middle">TTR: -0.743 NPX</text>
<path d="M495.80,236.30 L498.52,237.93 L501.24,239.57 L503.97,241.20 L506.69,242.83 L509.41,244.45 L512.13,246.08 L514.85,247.70 L517.57,249.32 L520.30,250.93 L523.02,252.55 L525.74,254.15 L528.46,255.76 L531.18,257.35 L533.90,258.94 L536.63,260.53 L539.35,262.10 L542.07,263.67 L544.79,265.22 L547.51,266.77 L550.23,268.29 L552.96,269.80 L555.68,271.28 L558.40,272.74 L561.12,274.17 L563.84,275.56 L566.56,276.89 L569.29,278.17 L572.01,279.37 L574.73,280.48 L577.45,281.48 L580.17,282.35 L582.89,283.07 L585.62,283.63 L588.34,284.03 L591.06,284.27 L593.78,284.37 L596.50,284.34 L599.22,284.21 L601.95,283.99 L604.67,283.69 L607.39,283.34 L610.11,282.95 L612.83,282.51 L615.55,282.05 L618.28,281.55 L621.00,281.04 L623.72,280.51 L626.44,279.96 L629.16,279.40 L631.88,278.83 L634.61,278.26 L637.33,277.67 L640.05,277.08 L642.77,276.48 L645.49,275.87 L648.21,275.26 L650.94,274.65 L653.66,274.03 L656.38,273.41 L659.10,272.79 L659.10,337.94 L656.38,336.32 L653.66,334.70 L650.94,333.08 L648.21,331.47 L645.49,329.86 L642.77,328.26 L640.05,326.66 L637.33,325.07 L634.61,323.48 L631.88,321.90 L629.16,320.34 L626.44,318.78 L623.72,317.23 L621.00,315.70 L618.28,314.19 L615.55,312.70 L612.83,311.23 L610.11,309.80 L607.39,308.40 L604.67,307.05 L601.95,305.76 L599.22,304.54 L596.50,303.41 L593.78,302.38 L591.06,301.48 L588.34,300.73 L585.62,300.13 L582.89,299.69 L580.17,299.41 L577.45,299.28 L574.73,299.28 L572.01,299.39 L569.29,299.60 L566.56,299.87 L563.84,300.21 L561.12,300.60 L558.40,301.03 L555.68,301.49 L552.96,301.97 L550.23,302.48 L547.51,303.01 L544.79,303.55 L542.07,304.11 L539.35,304.67 L536.63,305.25 L533.90,305.84 L531.18,306.43 L528.46,307.03 L525.74,307.63 L523.02,308.24 L520.30,308.85 L517.57,309.47 L514.85,310.09 L512.13,310.71 L509.41,311.33 L506.69,311.96 L503.97,312.59 L501.24,313.23 L498.52,313.86 L495.80,314.50 Z" fill="#ff4d37" fill-opacity="0.5"/>
<path d="M495.80,249.00 L498.52,250.06 L501.24,251.13 L503.97,252.18 L506.69,253.24 L509.41,254.29 L512.13,255.34 L514.85,256.38 L517.57,257.41 L520.30,258.44 L523.02,259.47 L525.74,260.48 L528.46,261.49 L531.18,262.49 L533.90,263.48 L536.63,264.46 L539.35,265.43 L542.07,266.39 L544.79,267.33 L547.51,268.26 L550.23,269.16 L552.96,270.05 L555.68,270.92 L558.40,271.76 L561.12,272.58 L563.84,273.36 L566.56,274.12 L569.29,274.84 L572.01,275.52 L574.73,276.16 L577.45,276.75 L580.17,277.31 L582.89,277.81 L585.62,278.27 L588.34,278.68 L591.06,279.04 L593.78,279.36 L596.50,279.63 L599.22,279.86 L601.95,280.05 L604.67,280.21 L607.39,280.32 L610.11,280.41 L612.83,280.47 L615.55,280.50 L618.28,280.51 L621.00,280.49 L623.72,280.46 L626.44,280.41 L629.16,280.35 L631.88,280.27 L634.61,280.18 L637.33,280.08 L640.05,279.96 L642.77,279.84 L645.49,279.71 L648.21,279.57 L650.94,279.43 L653.66,279.27 L656.38,279.12 L659.10,278.95 L659.10,320.86 L656.38,319.82 L653.66,318.78 L650.94,317.75 L648.21,316.73 L645.49,315.71 L642.77,314.70 L640.05,313.70 L637.33,312.70 L634.61,311.72 L631.88,310.75 L629.16,309.79 L626.44,308.85 L623.72,307.92 L621.00,307.00 L618.28,306.11 L615.55,305.24 L612.83,304.39 L610.11,303.57 L607.39,302.78 L604.67,302.01 L601.95,301.29 L599.22,300.60 L596.50,299.95 L593.78,299.34 L591.06,298.78 L588.34,298.26 L585.62,297.79 L582.89,297.37 L580.17,296.99 L577.45,296.67 L574.73,296.38 L572.01,296.14 L569.29,295.95 L566.56,295.79 L563.84,295.66 L561.12,295.57 L558.40,295.50 L555.68,295.46 L552.96,295.45 L550.23,295.46 L547.51,295.49 L544.79,295.53 L542.07,295.59 L539.35,295.67 L536.63,295.76 L533.90,295.86 L531.18,295.97 L528.46,296.09 L525.74,296.22 L523.02,296.35 L520.30,296.50 L517.57,296.65 L514.85,296.80 L512.13,296.97 L509.41,297.13 L506.69,297.30 L503.97,297.48 L501.24,297.66 L498.52,297.84 L495.80,298.03 Z" fill="#0080ff" fill-opacity="0.5"/>
<line x1="495.80" y1="275.40" x2="659.10" y2="305.36" stroke="#fa4834" stroke-width="1.65" stroke-linecap="round"/>
<line x1="495.80" y1="273.51" x2="659.10" y2="299.91" stroke="#0a80f8" stroke-width="1.65" stroke-linecap="round"/>
<rect x="489.5" y="231.5" width="176.00" height="111.00" fill="none" stroke="#5a5a5a" stroke-width="0.9"/>
<line x1="484.30" y1="336.34" x2="489.50" y2="336.34" stroke="#5a5a5a" stroke-width="0.9"/>
<text transform="translate(480.20,339.29) scale(1,1.1)" class="tk" text-anchor="end">-2.0</text>
<line x1="484.30" y1="319.50" x2="489.50" y2="319.50" stroke="#5a5a5a" stroke-width="0.9"/>
<text transform="translate(480.20,322.45) scale(1,1.1)" class="tk" text-anchor="end">-1.5</text>
<line x1="484.30" y1="302.67" x2="489.50" y2="302.67" stroke="#5a5a5a" stroke-width="0.9"/>
<text transform="translate(480.20,305.62) scale(1,1.1)" class="tk" text-anchor="end">-1.0</text>
<line x1="484.30" y1="285.83" x2="489.50" y2="285.83" stroke="#5a5a5a" stroke-width="0.9"/>
<text transform="translate(480.20,288.78) scale(1,1.1)" class="tk" text-anchor="end">-0.5</text>
<line x1="484.30" y1="269.00" x2="489.50" y2="269.00" stroke="#5a5a5a" stroke-width="0.9"/>
<text transform="translate(480.20,271.95) scale(1,1.1)" class="tk" text-anchor="end">0.0</text>
<line x1="484.30" y1="252.16" x2="489.50" y2="252.16" stroke="#5a5a5a" stroke-width="0.9"/>
<text transform="translate(480.20,255.11) scale(1,1.1)" class="tk" text-anchor="end">0.5</text>
<line x1="484.30" y1="235.33" x2="489.50" y2="235.33" stroke="#5a5a5a" stroke-width="0.9"/>
<text transform="translate(480.20,238.28) scale(1,1.1)" class="tk" text-anchor="end">1.0</text>
<line x1="494.30" y1="342.50" x2="494.30" y2="347.70" stroke="#5a5a5a" stroke-width="0.9"/>
<text transform="translate(494.30,360.40) scale(1,1.1)" class="tk" text-anchor="middle">-2.0</text>
<line x1="517.05" y1="342.50" x2="517.05" y2="347.70" stroke="#5a5a5a" stroke-width="0.9"/>
<text transform="translate(517.05,360.40) scale(1,1.1)" class="tk" text-anchor="middle">-1.5</text>
<line x1="539.80" y1="342.50" x2="539.80" y2="347.70" stroke="#5a5a5a" stroke-width="0.9"/>
<text transform="translate(539.80,360.40) scale(1,1.1)" class="tk" text-anchor="middle">-1.0</text>
<line x1="562.55" y1="342.50" x2="562.55" y2="347.70" stroke="#5a5a5a" stroke-width="0.9"/>
<text transform="translate(562.55,360.40) scale(1,1.1)" class="tk" text-anchor="middle">-0.5</text>
<line x1="585.30" y1="342.50" x2="585.30" y2="347.70" stroke="#5a5a5a" stroke-width="0.9"/>
<text transform="translate(585.30,360.40) scale(1,1.1)" class="tk" text-anchor="middle">0.0</text>
<line x1="608.05" y1="342.50" x2="608.05" y2="347.70" stroke="#5a5a5a" stroke-width="0.9"/>
<text transform="translate(608.05,360.40) scale(1,1.1)" class="tk" text-anchor="middle">0.5</text>
<line x1="630.80" y1="342.50" x2="630.80" y2="347.70" stroke="#5a5a5a" stroke-width="0.9"/>
<text transform="translate(630.80,360.40) scale(1,1.1)" class="tk" text-anchor="middle">1.0</text>
<line x1="653.55" y1="342.50" x2="653.55" y2="347.70" stroke="#5a5a5a" stroke-width="0.9"/>
<text transform="translate(653.55,360.40) scale(1,1.1)" class="tk" text-anchor="middle">1.5</text>
<text transform="translate(577.50,378.10) scale(1,1.1)" class="xl" style="font-size:7.8px" text-anchor="middle">TTR Levels (NPX)</text>
<text transform="translate(459.70,287.00) rotate(-90) scale(1,1.1)" class="xl" style="font-size:7.8px" text-anchor="middle">log(Hazard ratio)</text>
<text transform="translate(486.1,220.7) scale(1,1.03)" class="ti">E. Ventricular arrhythmias</text>
<text x="659.4" y="248.90" class="pi" text-anchor="end">P interaction = 0.161</text>

<line x1="536.4" y1="4.7" x2="553.4" y2="4.7" stroke="#fa4834" stroke-width="1.3"/>
<text x="560.6" y="7.9" class="lg">&lt; 25 <tspan dx="0.6">kg/m</tspan><tspan dx="0.3" dy="-4.2" class="sup">2</tspan></text>
<line x1="613.8" y1="4.7" x2="630.7" y2="4.7" stroke="#0a80f8" stroke-width="1.3"/>
<text x="637.6" y="7.9" class="lg">&gt;= 25 <tspan dx="0.6">kg/m</tspan><tspan dx="0.3" dy="-4.2" class="sup">2</tspan></text>

</svg>
</body></html>
